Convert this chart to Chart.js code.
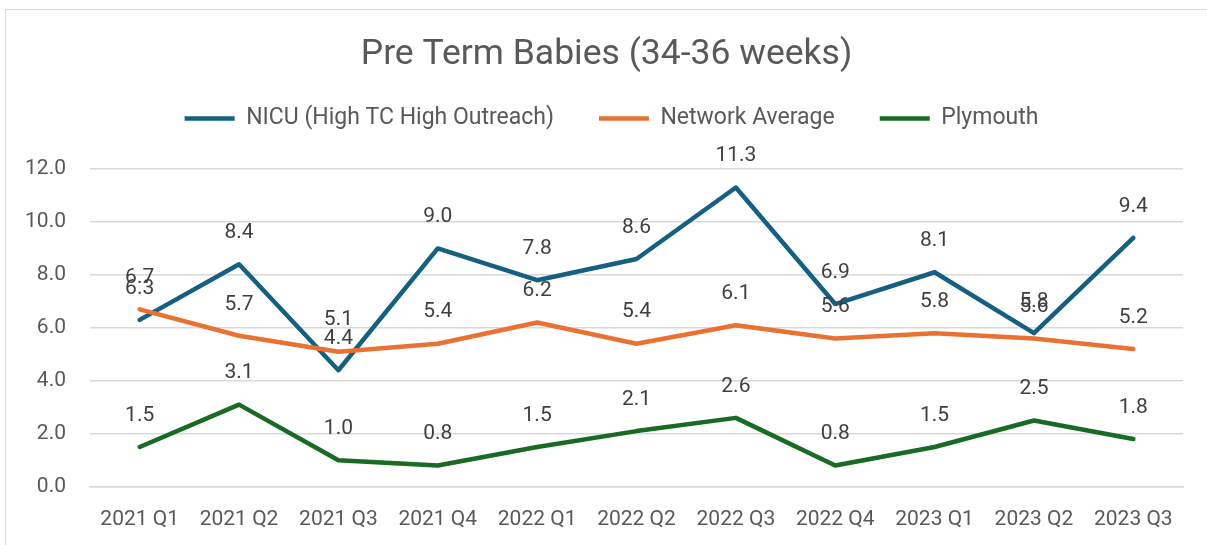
<!DOCTYPE html>
<html>
<head>
<meta charset="utf-8">
<script src="https://cdn.jsdelivr.net/npm/chart.js@4.4.1/dist/chart.umd.min.js"></script>
<style>
html,body{margin:0;padding:0;background:#fff;overflow:hidden;width:1207px;height:545px}
#frame{position:absolute;left:5px;top:9px;width:1400px;height:800px;border:1.5px solid #d9d9d9;box-sizing:border-box}
#wrap{position:absolute;left:0;top:0;width:1207px;height:545px}
</style>
</head>
<body>
<div id="frame"></div>
<div id="wrap"><canvas id="c" width="1207" height="545"></canvas></div>
<script>
const categories = ['2021 Q1','2021 Q2','2021 Q3','2021 Q4','2022 Q1','2022 Q2','2022 Q3','2022 Q4','2023 Q1','2023 Q2','2023 Q3'];
const nicuValues = [6.3, 8.4, 4.4, 9.0, 7.8, 8.6, 11.3, 6.9, 8.1, 5.8, 9.4];
const networkValues = [6.7, 5.7, 5.1, 5.4, 6.2, 5.4, 6.1, 5.6, 5.8, 5.6, 5.2];
const plymouthValues = [1.5, 3.1, 1.0, 0.8, 1.5, 2.1, 2.6, 0.8, 1.5, 2.5, 1.8];
const seriesNames = ['NICU (High TC High Outreach)', 'Network Average', 'Plymouth'];
const yMin = 0, yMax = 12, yStep = 2;
const chartTitle = 'Pre Term Babies (34-36 weeks)';

const FONT = 'Roboto, "Liberation Sans", sans-serif';
Chart.defaults.font.family = FONT;

const valueLabels = {
  id: 'valueLabels',
  afterDatasetsDraw(chart) {
    const ctx = chart.ctx;
    ctx.save();
    ctx.font = '21px ' + FONT;
    ctx.fillStyle = '#404040';
    ctx.textAlign = 'center';
    ctx.textBaseline = 'middle';
    chart.data.datasets.forEach((ds, i) => {
      const meta = chart.getDatasetMeta(i);
      meta.data.forEach((pt, j) => {
        ctx.fillText(Number(ds.data[j]).toFixed(1), pt.x, pt.y - 31.5);
      });
    });
    ctx.restore();
  }
};

const headerLayout = {
  id: 'headerLayout',
  beforeLayout(chart) {
    const lg = chart.legend;
    if (lg && !lg._patched) {
      const orig = lg.fit;
      lg.fit = function () { orig.call(this); this.height = 107; };
      lg._patched = true;
    }
  },
  afterLayout(chart) {
    // centre title and legend over the chart frame, like the reference
    if (chart.titleBlock) { chart.titleBlock.left = 6; chart.titleBlock.right = chart.width; }
    if (chart.legend) { chart.legend.left = 16; chart.legend.right = chart.width; }
  }
};

const common = { borderWidth: 4.5, borderCapStyle: 'round', borderJoinStyle: 'round', pointRadius: 0, tension: 0, fill: false };

new Chart(document.getElementById('c'), {
  type: 'line',
  data: {
    labels: categories,
    datasets: [
      Object.assign({ label: seriesNames[0], data: nicuValues, borderColor: '#156082', backgroundColor: '#156082', order: 3 }, common),
      Object.assign({ label: seriesNames[1], data: networkValues, borderColor: '#E97132', backgroundColor: '#E97132', order: 2 }, common),
      Object.assign({ label: seriesNames[2], data: plymouthValues, borderColor: '#196B24', backgroundColor: '#196B24', order: 1 }, common)
    ]
  },
  options: {
    responsive: false,
    animation: false,
    devicePixelRatio: 1,
    layout: { padding: { left: 0, right: 24, top: 0, bottom: 0 } },
    plugins: {
      title: {
        display: true, text: chartTitle, color: '#595959',
        font: { size: 35.5, weight: 'normal', lineHeight: 1 },
        padding: { top: 37.5, bottom: -11 }
      },
      legend: {
        display: true, position: 'top',
        labels: {
          usePointStyle: true, pointStyle: 'line', pointStyleWidth: 50,
          color: '#595959', font: { size: 23 }, padding: 45,
          sort: (a, b) => a.datasetIndex - b.datasetIndex
        }
      },
      tooltip: { enabled: false }
    },
    scales: {
      x: {
        offset: true,
        grid: { display: false, drawTicks: false },
        border: { display: true, color: '#d9d9d9', width: 1.5 },
        ticks: { color: '#595959', font: { size: 21 }, padding: 20, maxRotation: 0, autoSkip: false },
        afterFit(s) { s.height = 58.3; }
      },
      y: {
        min: yMin, max: yMax,
        grid: { color: '#d9d9d9', lineWidth: 1.5, drawTicks: false },
        border: { display: false },
        ticks: { stepSize: yStep, color: '#595959', font: { size: 21 }, padding: 24, callback: v => Number(v).toFixed(1) },
        afterFit(s) { s.width = 90; }
      }
    }
  },
  plugins: [valueLabels, headerLayout]
});
</script>
</body>
</html>
